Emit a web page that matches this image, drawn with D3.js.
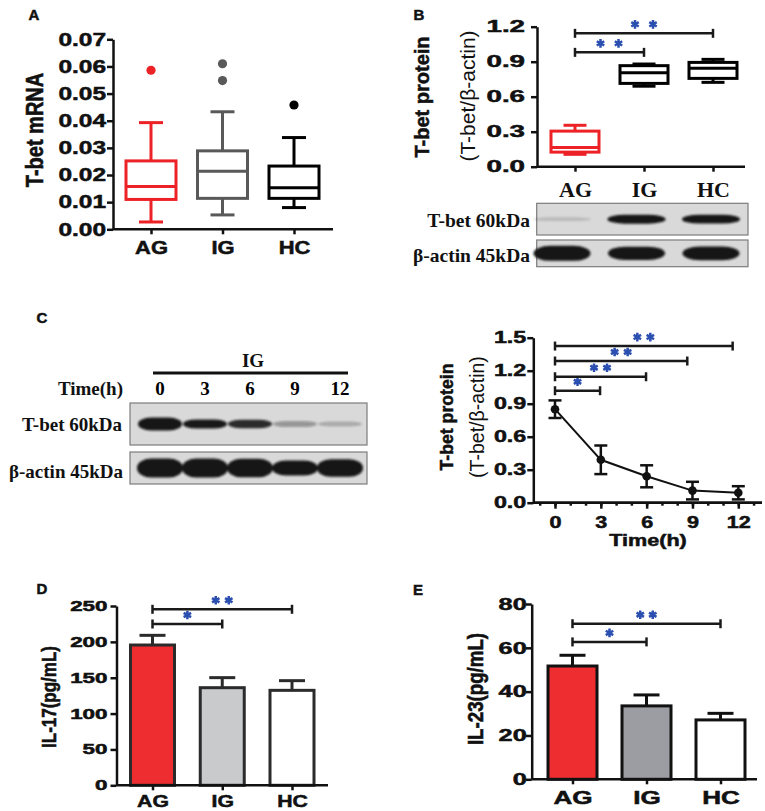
<!DOCTYPE html>
<html>
<head>
<meta charset="utf-8">
<script src="https://cdn.jsdelivr.net/npm/d3@7"></script>
<style>
  body { margin: 0; background: #fff; }
  svg { display: block; }
</style>
</head>
<body>
<script>
// ---- data ----
var groups = ["AG", "IG", "HC"];

// A: T-bet mRNA, box stats [min, q1, median, q3, max]
var mrnaBoxes = [
  [0.0027, 0.0110, 0.0158, 0.0252, 0.0393],
  [0.0053, 0.0114, 0.0214, 0.0289, 0.0433],
  [0.0080, 0.0114, 0.0153, 0.0233, 0.0338]
];
var mrnaOutliers = [[0.0586], [0.0610, 0.0548], [0.0458]];
var mrnaTicks = [0, 0.01, 0.02, 0.03, 0.04, 0.05, 0.06, 0.07];

// B: T-bet protein (T-bet/b-actin), box stats
var proteinBoxes = [
  [0.106, 0.125, 0.165, 0.305, 0.355],
  [0.690, 0.714, 0.806, 0.866, 0.880],
  [0.723, 0.757, 0.843, 0.894, 0.920]
];
var proteinTicks = [0, 0.3, 0.6, 0.9, 1.2];
var proteinSigPairs = [["AG", "IG"], ["AG", "HC"]];
var proteinSigY = [0.98, 1.143];
var proteinSigMarks = ["**", "**"];
var blotBTbet = [0.08, 0.85, 0.8];
var blotBActin = [1, 0.85, 0.9];

// C: time course in IG
var hours = [0, 3, 6, 9, 12];
var timeMean = [0.85, 0.39, 0.24, 0.11, 0.09];
var timeErr = [0.08, 0.13, 0.10, 0.08, 0.06];
var timeTicks = [0, 0.3, 0.6, 0.9, 1.2, 1.5];
var timeSigEnd = [2.95, 5.96, 8.66, 11.63];
var timeSigY = [1.018, 1.145, 1.288, 1.424];
var timeSigMarks = ["*", "**", "**", "**"];
var blotCTbet = [1, 0.55, 0.5, 0.2, 0.12];
var blotCActin = [1, 1, 0.95, 0.7, 0.9];

// D: IL-17
var il17Mean = [195.6, 136.1, 132.4];
var il17Err = [13.5, 14.0, 13.5];
var il17Ticks = [0, 50, 100, 150, 200, 250];
var il17SigPairs = [["AG", "IG"], ["AG", "HC"]];
var il17SigY = [224.9, 245.4];
var il17SigMarks = ["*", "**"];

// E: IL-23
var il23Mean = [51.7, 33.5, 27.1];
var il23Err = [4.9, 5.0, 3.0];
var il23Ticks = [0, 20, 40, 60, 80];
var il23SigPairs = [["AG", "IG"], ["AG", "HC"]];
var il23SigY = [62.7, 71.0];
var il23SigMarks = ["*", "**"];

// ---- styles ----
var sans = "'Liberation Sans', Arial, sans-serif";
var serif = "'Liberation Serif', 'Times New Roman', serif";
var RED = "#ec2227", BLUE = "#2b4fb0", INK = "#111";

var svg = d3.select("body").append("svg")
    .attr("width", 765)
    .attr("height", 811);

svg.append("rect").attr("width", 765).attr("height", 811).attr("fill", "#fff");

var defs = svg.append("defs");
defs.append("filter").attr("id", "soft")
    .attr("x", "-20%").attr("y", "-60%").attr("width", "140%").attr("height", "220%")
  .append("feGaussianBlur").attr("stdDeviation", 1.2);

// text helper: stretch sx (horizontal) / sy, optional rotation
function txt(parent, s, x, y, o) {
  o = o || {};
  var t = "translate(" + x + "," + y + ")";
  if (o.rot) t += " rotate(" + o.rot + ")";
  t += " scale(" + (o.sx || 1) + "," + (o.sy || 1) + ")";
  var el = parent.append("text")
      .attr("transform", t)
      .attr("text-anchor", o.anchor || "middle")
      .attr("dominant-baseline", o.rot ? "central" : "auto")
      .attr("font-family", o.font || sans)
      .attr("font-weight", o.weight || "bold")
      .attr("font-size", o.size || 16)
      .attr("fill", o.fill || INK)
      .text(s);
  // the sans labels in the figure are heavier than plain bold
  if (!o.font && o.weight !== "normal") el.attr("stroke", INK).attr("stroke-width", 0.5);
  return el;
}

function yAxis(scale, ticks, fmt, x, size, sx, gap) {
  var ax = svg.append("g")
      .attr("transform", "translate(" + x + ",0)")
      .call(d3.axisLeft(scale).tickValues(ticks).tickFormat(d3.format(fmt)).tickSize(6).tickSizeOuter(0));
  ax.select(".domain").attr("stroke", INK).attr("stroke-width", 2.5);
  ax.selectAll(".tick line").attr("stroke", INK).attr("stroke-width", 2.5);
  ax.selectAll(".tick text")
      .attr("font-family", sans)
      .attr("font-weight", "bold")
      .attr("font-size", size)
      .attr("fill", INK)
      .attr("stroke", INK)
      .attr("stroke-width", 0.5)
      .attr("x", -gap / sx)
      .attr("transform", "scale(" + sx + ",1)");
  return ax;
}

// bottom axis with its own line extent
function xAxis(scale, y, x0, x1, o) {
  var ax = svg.append("g")
      .attr("transform", "translate(0," + y + ")")
      .call(d3.axisBottom(scale).tickValues(o.ticks || null).tickSize(o.tick || 5).tickSizeOuter(0));
  ax.select(".domain").remove();
  ax.append("line").attr("x1", x0).attr("x2", x1)
      .attr("stroke", INK).attr("stroke-width", 2.5);
  ax.selectAll(".tick line").attr("stroke", INK).attr("stroke-width", 2.5);
  ax.selectAll(".tick text")
      .attr("font-family", o.font || sans)
      .attr("font-weight", "bold")
      .attr("font-size", o.size)
      .attr("fill", INK)
      .attr("stroke", o.font ? "none" : INK)
      .attr("stroke-width", 0.5)
      .attr("y", o.base)
      .attr("dy", 0)
      .attr("transform", "scale(" + (o.sx || 1) + ",1)");
  return ax;
}

function drawBoxes(x, y, boxes, outliers, colors, boxW, capW) {
  boxes.forEach(function(b, i) {
    var cx = x(groups[i]), c = colors[i];
    var g = svg.append("g").attr("stroke", c).attr("stroke-width", 3).attr("fill", "none");
    g.append("line").attr("x1", cx).attr("x2", cx).attr("y1", y(b[0])).attr("y2", y(b[1]));
    g.append("line").attr("x1", cx).attr("x2", cx).attr("y1", y(b[3])).attr("y2", y(b[4]));
    [b[0], b[4]].forEach(function(v) {
      g.append("line").attr("x1", cx - capW / 2).attr("x2", cx + capW / 2).attr("y1", y(v)).attr("y2", y(v));
    });
    g.append("rect")
        .attr("x", cx - boxW / 2).attr("width", boxW)
        .attr("y", y(b[3])).attr("height", y(b[1]) - y(b[3]))
        .attr("fill", "#fff");
    g.append("line").attr("x1", cx - boxW / 2).attr("x2", cx + boxW / 2).attr("y1", y(b[2])).attr("y2", y(b[2]));
    if (outliers) {
      svg.selectAll(null).data(outliers[i]).enter().append("circle")
          .attr("cx", cx).attr("cy", function(d) { return y(d); })
          .attr("r", 4.6).attr("fill", c);
    }
  });
}

var starShape = d3.symbol().type(d3.symbolAsterisk || d3.symbolCross).size(52);

function drawSig(x1s, x2s, ys, marks, yScale, spacing) {
  ys.forEach(function(v, i) {
    var yy = yScale(v), a = x1s[i], b = x2s[i];
    var g = svg.append("g").attr("stroke", "#1a1a1a").attr("stroke-width", 2.5);
    g.append("line").attr("x1", a).attr("x2", b).attr("y1", yy).attr("y2", yy);
    g.append("line").attr("x1", a).attr("x2", a).attr("y1", yy - 4.5).attr("y2", yy + 4.5);
    g.append("line").attr("x1", b).attr("x2", b).attr("y1", yy - 4.5).attr("y2", yy + 4.5);
    var n = marks[i].length, mid = (a + b) / 2;
    d3.range(n).forEach(function(k) {
      svg.append("path")
          .attr("d", starShape())
          .attr("transform", "translate(" + (mid + (k - (n - 1) / 2) * spacing) + "," + (yy - 9) + ")")
          .attr("fill", "none")
          .attr("stroke", BLUE)
          .attr("stroke-width", 2.5);
    });
  });
}

function drawBars(x, y, means, errs, fills, stroke, barW, capW) {
  svg.selectAll(null).data(means).enter().append("rect")
      .attr("x", function(d, i) { return x(groups[i]) - barW / 2; })
      .attr("width", barW)
      .attr("y", function(d) { return y(d); })
      .attr("height", function(d) { return y(0) - y(d); })
      .attr("fill", function(d, i) { return fills[i]; })
      .attr("stroke", stroke)
      .attr("stroke-width", 3);
  means.forEach(function(m, i) {
    var cx = x(groups[i]);
    var g = svg.append("g").attr("stroke", stroke).attr("stroke-width", 3);
    g.append("line").attr("x1", cx).attr("x2", cx).attr("y1", y(m)).attr("y2", y(m + errs[i]));
    g.append("line").attr("x1", cx - capW / 2).attr("x2", cx + capW / 2).attr("y1", y(m + errs[i])).attr("y2", y(m + errs[i]));
  });
}

// western blot strip: background plus blurred lens-shaped bands scaled by intensity
function drawBlot(x0, x1, y0, y1, lanes, keys, intens, bandW, maxH) {
  svg.append("rect")
      .attr("x", x0).attr("y", y0).attr("width", x1 - x0).attr("height", y1 - y0)
      .attr("fill", "#d9d9d9").attr("stroke", "#7c7c7c").attr("stroke-width", 1.2);
  var cy = (y0 + y1) / 2;
  function h(d) { return maxH * (0.3 + 0.7 * d); }
  svg.append("g").attr("filter", "url(#soft)")
    .selectAll("rect").data(intens).enter().append("rect")
      .attr("x", function(d, i) { return lanes(keys[i]) - bandW / 2; })
      .attr("width", bandW)
      .attr("y", function(d) { return cy - h(d) / 2; })
      .attr("height", h)
      .attr("rx", bandW * 0.3)
      .attr("ry", function(d) { return h(d) / 2; })
      .attr("fill", "#141414")
      .attr("opacity", function(d) { return Math.min(1, d * 1.8); });
}

// ---- panel letters ----
txt(svg, "A", 34, 20, { size: 15 });
txt(svg, "B", 419, 20, { size: 15 });
txt(svg, "C", 42, 323, { size: 15 });
txt(svg, "D", 42, 594, { size: 15 });
txt(svg, "E", 418, 595, { size: 15 });

// ---- A ----
var yA = d3.scaleLinear().domain([0, 0.07]).range([229.3, 39.3]);
var xA = d3.scalePoint().domain(groups).range([151, 294]);
drawBoxes(xA, yA, mrnaBoxes, mrnaOutliers, [RED, "#595959", "#000"], 50, 24);
yAxis(yA, mrnaTicks, ".2f", 113, 18, 1.36, 7);
xAxis(xA, 229.3, 113, 333, { size: 18, sx: 1.22, base: 25 });
txt(svg, "T-bet mRNA", 35, 130, { rot: -90, size: 20, sy: 1.15 });

// ---- B ----
var yB = d3.scaleLinear().domain([0, 1.2]).range([166.7, 26.7]);
var xB = d3.scalePoint().domain(groups).range([575, 713]);
drawBoxes(xB, yB, proteinBoxes, null, [RED, "#000", "#000"], 48, 23);
yAxis(yB, proteinTicks, ".1f", 537, 16.3, 1.7, 12);
xAxis(xB, 166.7, 537, 745, { size: 22, font: serif, base: 30 });
drawSig(proteinSigPairs.map(function(p) { return xB(p[0]); }),
        proteinSigPairs.map(function(p) { return xB(p[1]); }),
        proteinSigY, proteinSigMarks, yB, 18);
txt(svg, "T-bet protein", 422, 97, { rot: -90, size: 20 });
txt(svg, "(T-bet/\u03b2-actin)", 467, 96, { rot: -90, size: 21, weight: "normal" });

var laneB = d3.scalePoint().domain(groups).range([562, 711]);
drawBlot(536.7, 748, 203.3, 235, laneB, groups, blotBTbet, 58, 10);
drawBlot(536.7, 748, 240, 266.7, laneB, groups, blotBActin, 57, 15);
txt(svg, "T-bet 60kDa", 530, 226.5, { anchor: "end", font: serif, size: 19.5 });
txt(svg, "\u03b2-actin 45kDa", 530, 261.5, { anchor: "end", font: serif, size: 19.5 });

// ---- C blot ----
var laneC = d3.scalePoint().domain(hours).range([160, 340]);
txt(svg, "IG", 253, 367, { font: serif, size: 19 });
svg.append("line").attr("x1", 153).attr("x2", 348).attr("y1", 373).attr("y2", 373)
    .attr("stroke", INK).attr("stroke-width", 3);
txt(svg, "Time(h)", 123, 395, { anchor: "end", font: serif, size: 19 });
svg.selectAll(null).data(hours).enter().append("text")
    .attr("x", function(d) { return laneC(d); })
    .attr("y", 395)
    .attr("text-anchor", "middle")
    .attr("font-family", serif)
    .attr("font-weight", "bold")
    .attr("font-size", 19)
    .text(function(d) { return d; });
drawBlot(130, 367, 403, 445, laneC, hours, blotCTbet, 44, 13);
drawBlot(130, 367, 452, 484, laneC, hours, blotCActin, 46, 19);
txt(svg, "T-bet 60kDa", 122, 431, { anchor: "end", font: serif, size: 19 });
txt(svg, "\u03b2-actin 45kDa", 123, 478, { anchor: "end", font: serif, size: 19 });

// ---- C chart ----
var yC = d3.scaleLinear().domain([0, 1.5]).range([502.7, 337.7]);
var xC = d3.scaleLinear().domain([0, 12]).range([555, 738.3]);
xAxis(xC, 502.7, 533, 762, { ticks: d3.range(-1, 14), tick: 3, size: 0, base: 0 })
    .selectAll(".tick text").remove();
xAxis(xC, 502.7, 533, 762, { ticks: hours, tick: 6, size: 16, sx: 1.35, base: 25 });
yAxis(yC, timeTicks, ".1f", 533.3, 16.3, 1.43, 7);

var lineC = d3.line()
    .x(function(d, i) { return xC(hours[i]); })
    .y(function(d) { return yC(d); });
svg.append("path").datum(timeMean)
    .attr("d", lineC)
    .attr("fill", "none").attr("stroke", INK).attr("stroke-width", 2);
timeMean.forEach(function(m, i) {
  var cx = xC(hours[i]);
  var g = svg.append("g").attr("stroke", INK).attr("stroke-width", 2.5);
  g.append("line").attr("x1", cx).attr("x2", cx).attr("y1", yC(m - timeErr[i])).attr("y2", yC(m + timeErr[i]));
  [m - timeErr[i], m + timeErr[i]].forEach(function(v) {
    g.append("line").attr("x1", cx - 6.5).attr("x2", cx + 6.5).attr("y1", yC(v)).attr("y2", yC(v));
  });
});
svg.selectAll(null).data(timeMean).enter().append("circle")
    .attr("cx", function(d, i) { return xC(hours[i]); })
    .attr("cy", function(d) { return yC(d); })
    .attr("r", 4.3).attr("fill", INK);
drawSig(timeSigEnd.map(function() { return xC(0); }),
        timeSigEnd.map(function(h) { return xC(h); }),
        timeSigY, timeSigMarks, yC, 13);
txt(svg, "Time(h)", 648, 546, { size: 16, sx: 1.35 });
txt(svg, "T-bet protein", 447, 417, { rot: -90, size: 17.7 });
txt(svg, "(T-bet/\u03b2-actin)", 477, 417, { rot: -90, size: 19.5, weight: "normal" });

// ---- D ----
var yD = d3.scaleLinear().domain([0, 250]).range([785.3, 606]);
var xD = d3.scalePoint().domain(groups).range([152.5, 292]);
drawBars(xD, yD, il17Mean, il17Err, ["#ee2d30", "#c9cacc", "#fff"], "#2b2b2b", 44, 26);
yAxis(yD, il17Ticks, "d", 116.5, 14, 1.6, 9);
xAxis(xD, 785.3, 116.5, 328, { size: 17, sx: 1.25, base: 22 });
drawSig(il17SigPairs.map(function(p) { return xD(p[0]); }),
        il17SigPairs.map(function(p) { return xD(p[1]); }),
        il17SigY, il17SigMarks, yD, 13);
txt(svg, "IL-17(pg/mL)", 49, 697, { rot: -90, size: 17, sy: 1.15 });

// ---- E ----
var yE = d3.scaleLinear().domain([0, 80]).range([779.3, 604]);
var xE = d3.scalePoint().domain(groups).range([572.5, 720.5]);
drawBars(xE, yE, il23Mean, il23Err, ["#ee2d30", "#9c9da2", "#fff"], "#111", 49, 26);
yAxis(yE, il23Ticks, "d", 531.7, 16.3, 1.55, 5);
xAxis(xE, 779.3, 531.7, 757, { size: 18, sx: 1.45, base: 25 });
drawSig(il23SigPairs.map(function(p) { return xE(p[0]); }),
        il23SigPairs.map(function(p) { return xE(p[1]); }),
        il23SigY, il23SigMarks, yE, 12.5);
txt(svg, "IL-23(pg/mL)", 476, 689, { rot: -90, size: 18.7, sy: 1.15 });
</script>
</body>
</html>
